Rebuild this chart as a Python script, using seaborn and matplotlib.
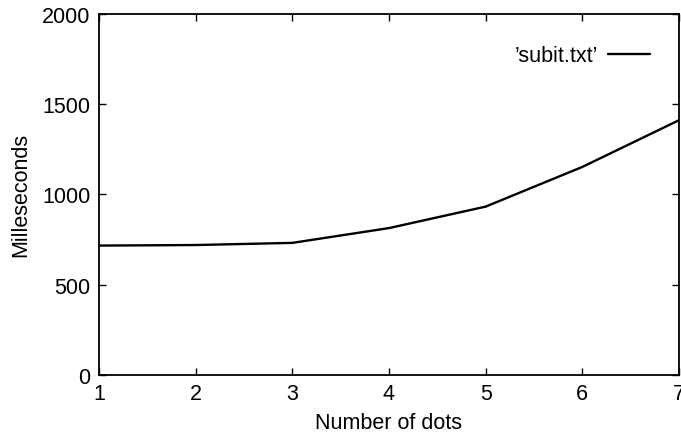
import pandas as pd
import matplotlib
matplotlib.use("Agg")
import matplotlib.pyplot as plt
import seaborn as sns

# values
dots = [1, 2, 3, 4, 5, 6, 7]
millis = [716, 719, 731, 813, 932, 1152, 1411]
series_label = "\u2019subit.txt\u2019"

df = pd.DataFrame({"dots": dots, "ms": millis})

sns.set_style("ticks")
plt.rcParams["font.family"] = ["Liberation Sans", "DejaVu Sans"]
plt.rcParams["text.color"] = "black"
plt.rcParams["axes.labelcolor"] = "black"

fs = 15.5
fig = plt.figure(figsize=(6.81, 4.35), dpi=100)
ax = fig.add_axes([0.1454, 0.1363, 0.8516, 0.8292])

sns.lineplot(data=df, x="dots", y="ms", color="black", linewidth=1.7,
             label=series_label, ax=ax)

ax.set_xlim(1, 7)
ax.set_ylim(0, 2000)
ax.set_xticks(dots)
ax.set_yticks([0, 500, 1000, 1500, 2000])

ax.tick_params(direction="in", length=5, width=1, top=True, right=True,
               labelsize=fs, colors="black")
ax.tick_params(axis="x", pad=6)
ax.tick_params(axis="y", pad=6)
for s in ax.spines.values():
    s.set_visible(True)
    s.set_linewidth(1.3)
    s.set_color("black")

ax.set_xlabel("Number of dots", fontsize=fs, labelpad=6)
ax.set_ylabel("Milleseconds", fontsize=fs, labelpad=8)

ax.legend(loc="center right", bbox_to_anchor=(0.95, 0.884), frameon=False,
          markerfirst=False, fontsize=fs, handlelength=1.95,
          handletextpad=0.45, borderpad=0, borderaxespad=0)

fig.savefig("out.png", dpi=100)
